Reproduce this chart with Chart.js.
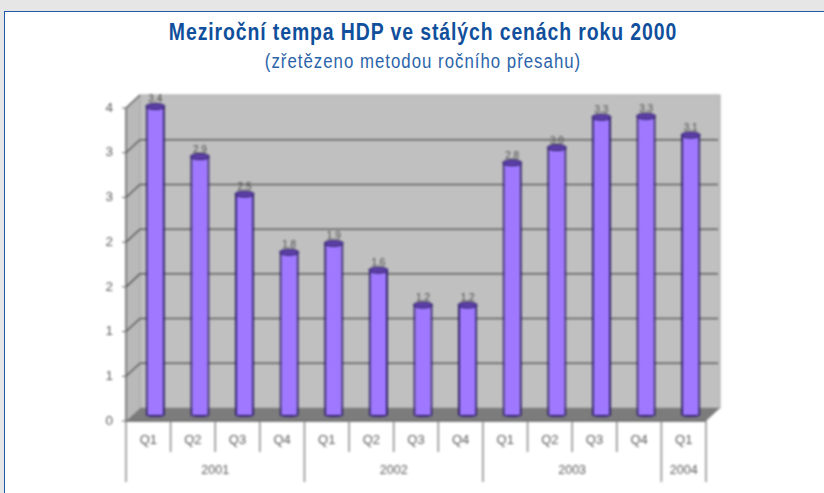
<!DOCTYPE html>
<html>
<head>
<meta charset="utf-8">
<script src="https://cdn.jsdelivr.net/npm/chart.js@4"></script>
<style>
  html, body { margin: 0; height: 100%; background: #e6e6e6; overflow: hidden; }
  #frame { position: absolute; left: 4px; top: 11px; width: 830px; height: 500px; background: #fff; border: 1px solid #1f5aa5; }
  h1, h2 { position: absolute; left: 0; width: 846px; margin: 0; text-align: center; font-family: "Liberation Sans", sans-serif; white-space: nowrap; transform-origin: 423px 0; }
  h1 { top: 18px; font-size: 24px; font-weight: bold; color: #0f4f9c; letter-spacing: 1.1px; transform: scaleX(0.81); }
  h2 { top: 50px; font-size: 20px; font-weight: normal; color: #2b64aa; letter-spacing: 1.2px; transform: scaleX(0.84); }
  #wrap { position: absolute; left: 0; top: 0; width: 824px; height: 493px; }
  canvas { filter: blur(0.8px); }
</style>
</head>
<body>
<div id="frame"></div>
<h1>Meziroční tempa HDP ve stálých cenách roku 2000</h1>
<h2>(zřetězeno metodou ročního přesahu)</h2>
<div id="wrap"><canvas id="bar-chart" width="824" height="493"></canvas></div>
<script>
var quarters = ['Q1','Q2','Q3','Q4','Q1','Q2','Q3','Q4','Q1','Q2','Q3','Q4','Q1']
var years = ['2001','2002','2003','2004']
var yearSpans = [4,4,4,1]
var growth = [3.45,2.89,2.47,1.82,1.92,1.62,1.23,1.23,2.82,2.99,3.33,3.34,3.13]
var growthLabels = ['3.4','2.9','2.5','1.8','1.9','1.6','1.2','1.2','2.8','3.0','3.3','3.3','3.1']
var yTickLabels = ['0','1','1','2','2','3','3','4']

// depth of the fake 3d box, back wall and bars are shifted by these
var DX = 14, DY = -13, BAR_DX = 7, BAR_DY = -6

var box3d = {
  id: 'box3d',
  beforeDatasetsDraw: function(chart) {
    var c = chart.ctx, a = chart.chartArea, y = chart.scales.y
    c.save()
    // left wall
    c.fillStyle = '#b9b9b9'
    c.beginPath(); c.moveTo(a.left, a.top); c.lineTo(a.left+DX, a.top+DY); c.lineTo(a.left+DX, a.bottom+DY); c.lineTo(a.left, a.bottom); c.closePath(); c.fill()
    // back wall
    c.fillStyle = '#c0c0c0'
    c.fillRect(a.left+DX, a.top+DY, a.width, a.height)
    c.strokeStyle = '#a5a5a5'; c.lineWidth = 1
    c.strokeRect(a.left+DX, a.top+DY, a.width, a.height)
    // floor
    c.fillStyle = '#7c7c7c'
    c.beginPath(); c.moveTo(a.left, a.bottom); c.lineTo(a.right, a.bottom); c.lineTo(a.right+DX, a.bottom+DY); c.lineTo(a.left+DX, a.bottom+DY); c.closePath(); c.fill()
    // gridlines on both walls
    y.ticks.forEach(function(t) {
      var p = y.getPixelForValue(t.value)
      if (t.value > 0) {
        c.strokeStyle = '#5e5e5e'; c.lineWidth = 1.5
        c.beginPath(); c.moveTo(a.left, p); c.lineTo(a.left+DX, p+DY)
        if (t.value < 3.5) c.lineTo(a.right+DX-2, p+DY)
        c.stroke()
      }
      c.strokeStyle = '#666'; c.lineWidth = 1
      c.beginPath(); c.moveTo(a.left-4, p); c.lineTo(a.left, p); c.stroke()
    })
    // front axis lines
    c.strokeStyle = '#666'; c.lineWidth = 1.5
    c.beginPath(); c.moveTo(a.left, a.top); c.lineTo(a.left, a.bottom); c.lineTo(a.right, a.bottom); c.stroke()
    c.restore()
  },
  beforeDatasetDraw: function(chart) {
    chart.ctx.save()
    chart.ctx.translate(BAR_DX, BAR_DY)
  },
  afterDatasetDraw: function(chart, args) {
    var c = chart.ctx
    args.meta.data.forEach(function(bar) {
      var rx = bar.width/2
      // base of the cylinder
      c.fillStyle = '#33226f'
      c.beginPath(); c.ellipse(bar.x, bar.base, rx, 2, 0, 0, Math.PI); c.fill()
      // cap
      c.fillStyle = '#5d3fa8'; c.strokeStyle = '#2b1d60'; c.lineWidth = 1
      c.beginPath(); c.ellipse(bar.x, bar.y, rx, 3, 0, 0, Math.PI*2); c.fill(); c.stroke()
    })
    c.restore()
  },
  afterDatasetsDraw: function(chart) {
    var c = chart.ctx, meta = chart.getDatasetMeta(0)
    c.save()
    c.font = '10px "Liberation Sans"'
    c.fillStyle = '#4a4a4a'
    c.textAlign = 'center'; c.textBaseline = 'alphabetic'
    meta.data.forEach(function(bar, i) {
      c.fillText(growthLabels[i], bar.x+BAR_DX, bar.y+BAR_DY-4)
    })
    c.restore()
  },
  afterDraw: function(chart) {
    var c = chart.ctx, a = chart.chartArea, x = chart.scales.x
    var step = a.width / quarters.length, idx = 0
    c.save()
    c.strokeStyle = '#8a8a8a'; c.lineWidth = 1.5
    c.fillStyle = '#5a5a5a'
    c.font = '12.5px "Liberation Sans"'
    c.textAlign = 'center'; c.textBaseline = 'middle'
    var edge = function(i) { return x.getPixelForValue(i) - step/2 }
    c.beginPath()
    for (var i = 0; i <= quarters.length; i++) {
      c.moveTo(edge(i), a.bottom); c.lineTo(edge(i), a.bottom+31)
    }
    yearSpans.forEach(function(span, g) {
      c.moveTo(edge(idx), a.bottom); c.lineTo(edge(idx), a.bottom+61)
      c.fillText(years[g], (edge(idx)+edge(idx+span))/2, a.bottom+50)
      idx += span
    })
    c.moveTo(edge(idx), a.bottom); c.lineTo(edge(idx), a.bottom+61)
    c.stroke()
    c.restore()
  }
}

var barFill = function(ctx) {
  var el = ctx.element
  if (!el || !el.width) return '#9f78ff'
  var g = ctx.chart.ctx.createLinearGradient(el.x-el.width/2, 0, el.x+el.width/2, 0)
  g.addColorStop(0, '#5f43b5')
  g.addColorStop(0.2, '#9a74f8')
  g.addColorStop(0.55, '#a680ff')
  g.addColorStop(0.85, '#9a74f8')
  g.addColorStop(1, '#5f43b5')
  return g
}

new Chart(document.getElementById('bar-chart'), {
  type: 'bar',
  plugins: [box3d],
  data: {
    labels: quarters,
    datasets: [{
      data: growth,
      backgroundColor: barFill,
      borderColor: '#2f2068',
      borderWidth: { left: 2, right: 2 },
      barPercentage: 0.43,
      categoryPercentage: 1
    }]
  },
  options: {
    responsive: false,
    animation: false,
    clip: false,
    layout: { padding: { left: 0, top: 108, right: 118, bottom: 0 } },
    plugins: { legend: { display: false }, title: { display: false }, tooltip: { enabled: false } },
    scales: {
      x: {
        afterFit: function(s) { s.height = 72 },
        grid: { display: false },
        border: { display: false },
        ticks: { maxRotation: 0, autoSkip: false, padding: 4, color: '#5a5a5a', font: { family: 'Liberation Sans', size: 13 } }
      },
      y: {
        min: 0,
        max: 3.5,
        afterFit: function(s) { s.width = 126 },
        grid: { display: false },
        border: { display: false },
        ticks: {
          stepSize: 0.5,
          padding: 5,
          color: '#5a5a5a',
          font: { family: 'Liberation Sans', size: 13.5 },
          callback: function(v, i) { return yTickLabels[i] }
        }
      }
    }
  }
})
</script>
</body>
</html>
